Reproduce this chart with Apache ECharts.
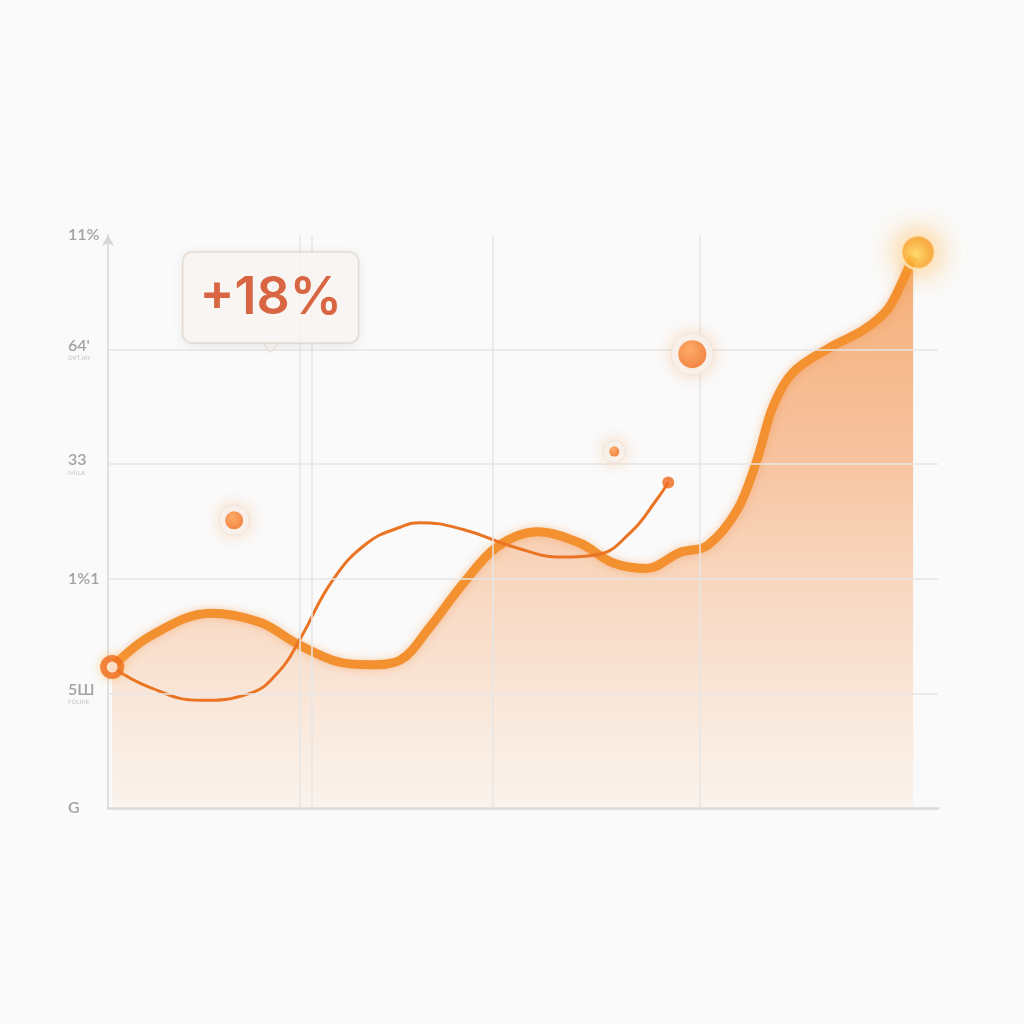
<!DOCTYPE html>
<html>
<head>
<meta charset="utf-8">
<script src="https://cdn.jsdelivr.net/npm/echarts@6/dist/echarts.min.js"></script>
<style>html,body{margin:0;padding:0;background:#fafafa;}#c{width:1024px;height:1024px;}</style>
</head>
<body>
<div id="c"></div>
<script>
// ---- data ----
const yTickLabels = ['G', '5Ш', '1%1', '33', "64'", '11%'];
const ySubLabels = ['', 'FOLIRE', '', 'IVIILA', 'OVT.IAY', ''];
const mainLine = [
  [0.5,1.23],[5.1,1.50],[12.3,1.70],[18.3,1.62],[23.1,1.42],[28.0,1.27],[31.6,1.25],[35.2,1.29],
  [38.8,1.58],[42.8,1.96],[46.9,2.28],[51.7,2.41],[56.9,2.31],[60.8,2.14],[64.9,2.09],[68.9,2.23],
  [72.2,2.29],[75.8,2.60],[78.2,3.04],[80.1,3.50],[82.5,3.80],[87.0,4.02],[91.0,4.17],[93.9,4.35],
  [95.8,4.61],[97.0,4.81]
];
const thinLine = [
  [0.5,1.23],[5.1,1.05],[11.1,0.94],[17.1,1.00],[20.7,1.20],[23.1,1.47],[27.1,1.99],[31.2,2.31],
  [35.2,2.45],[37.6,2.49],[42.8,2.43],[48.8,2.28],[54.8,2.19],[58.9,2.21],[62.9,2.40],[66.1,2.69],[67.5,2.84]
];
const bubbles = [[15.2,2.51],[61.0,3.11],[70.4,3.96]];
const startPoint = [0.5,1.23];
const endPoint = [97.6,4.85];
const thinEnd = [67.5,2.84];
const calloutPoint = [19.6,3.98];
const calloutText = '+18%';
const verticalGrid = [23.1,24.6,46.3,71.3];
const horizontalGrid = [1,2,3,4];

const chart = echarts.init(document.getElementById('c'));
const bubbleSizes = [18, 10, 28];
const haloSizes = [30, 22, 42];

const option = {
  backgroundColor: '#fafafa',
  animation: false,
  grid: { left: 108, right: 86, top: 235, bottom: 216 },
  xAxis: {
    type: 'value', min: 0, max: 100,
    axisLine: { show: true, lineStyle: { color: '#d9d9d9', width: 2.5 } },
    axisTick: { show: false }, axisLabel: { show: false }, splitLine: { show: false }
  },
  yAxis: {
    type: 'value', min: 0, max: 5, interval: 1,
    axisLine: { show: true, symbol: ['none', 'arrow'], symbolSize: [9, 11], lineStyle: { color: '#d6d6d6', width: 1.5 } },
    axisTick: { show: false },
    splitLine: { show: false },
    axisLabel: {
      align: 'left', margin: 40,
      formatter: function (v) {
        const i = Math.round(v);
        const sub = ySubLabels[i];
        return sub ? '{a|' + yTickLabels[i] + '}\n{b|' + sub + '}' : '{a|' + yTickLabels[i] + '}';
      },
      rich: {
        a: { fontSize: 16, fontWeight: 600, color: '#a3a3a3', fontFamily: 'Lato', lineHeight: 18 },
        b: { fontSize: 6, color: '#c4c4c4', fontFamily: 'DejaVu Sans', lineHeight: 8 }
      }
    }
  },
  series: [
    {
      type: 'line', data: [], z: 1, silent: true,
      markLine: {
        silent: true, symbol: 'none', label: { show: false },
        lineStyle: { color: '#e6e6e6', width: 1.5, type: 'solid' },
        data: verticalGrid.map(v => ({ xAxis: v })).concat(horizontalGrid.map(v => ({ yAxis: v })))
      }
    },
    {
      type: 'line', data: mainLine, smooth: 0.35, showSymbol: false, z: 3,
      lineStyle: { color: '#f3902f', width: 9, shadowBlur: 8, shadowColor: 'rgba(240,130,40,0.35)' },
      areaStyle: {
        color: new echarts.graphic.LinearGradient(0, 0, 0, 1, [
          { offset: 0, color: 'rgba(243,135,50,0.95)' },
          { offset: 0.35, color: 'rgba(244,150,85,0.8)' },
          { offset: 0.7, color: 'rgba(247,185,140,0.6)' },
          { offset: 1, color: 'rgba(250,225,205,0.45)' }
        ])
      }
    },
    {
      type: 'line', data: thinLine, smooth: 0.45, showSymbol: false, z: 4,
      lineStyle: { color: '#ea7424', width: 3 }
    },
    {
      type: 'scatter', data: bubbles, z: 5,
      symbolSize: (v, p) => haloSizes[p.dataIndex],
      itemStyle: { color: '#f8f4f0', borderColor: '#ebe2d9', borderWidth: 1, shadowBlur: 16, shadowColor: 'rgba(245,150,70,0.4)' }
    },
    {
      type: 'scatter', data: bubbles, z: 6,
      symbolSize: (v, p) => bubbleSizes[p.dataIndex],
      itemStyle: {
        color: new echarts.graphic.RadialGradient(0.4, 0.35, 0.7, [
          { offset: 0, color: '#ff9a4a' }, { offset: 1, color: '#f06a1a' }
        ])
      }
    },
    {
      type: 'scatter', data: [thinEnd], z: 6, symbolSize: 12,
      itemStyle: { color: '#ee6a1c' }
    },
    {
      type: 'scatter', data: [startPoint], z: 6, symbolSize: 24,
      itemStyle: { color: '#ef6c1d', shadowBlur: 10, shadowColor: 'rgba(255,180,60,0.7)' }
    },
    {
      type: 'scatter', data: [startPoint], z: 7, symbolSize: 11,
      itemStyle: { color: '#fff8ee' }
    },
    {
      type: 'scatter', data: [endPoint], z: 6, symbolSize: 34,
      itemStyle: {
        color: new echarts.graphic.RadialGradient(0.45, 0.55, 0.6, [
          { offset: 0, color: '#ffe06a' }, { offset: 0.6, color: '#f9a72c' }, { offset: 1, color: '#f5902a' }
        ]),
        borderColor: 'rgba(255,235,200,0.9)', borderWidth: 3,
        shadowBlur: 30, shadowColor: 'rgba(255,170,40,0.9)'
      }
    },
    {
      type: 'scatter', data: [calloutPoint], z: 8,
      symbol: 'path://M0,0 L20,0 L10,11 Z', symbolSize: [18, 10], symbolOffset: [0, -5],
      itemStyle: { color: '#fbf8f4', borderColor: '#e6dcd2', borderWidth: 1 },
      label: {
        show: true, position: 'top', distance: -1,
        formatter: () => calloutText,
        fontFamily: 'Inter', fontSize: 52, fontWeight: 600, color: '#cf4216',
        backgroundColor: '#fbf8f4', borderColor: '#e6dcd2', borderWidth: 1.5, borderRadius: 9,
        padding: [20, 16, 18, 16],
        shadowBlur: 10, shadowColor: 'rgba(0,0,0,0.08)', shadowOffsetY: 2
      }
    }
  ]
};
chart.setOption(option);
</script>
</body>
</html>
